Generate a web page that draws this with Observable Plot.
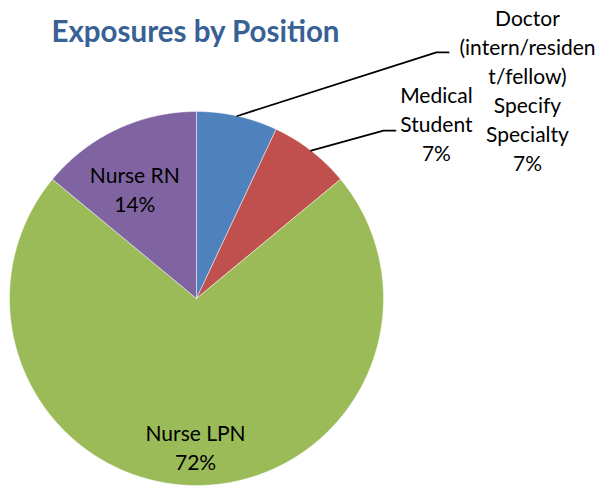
<!DOCTYPE html>
<html>
<head>
<meta charset="utf-8">
<script src="https://cdn.jsdelivr.net/npm/d3@7"></script>
<script src="https://cdn.jsdelivr.net/npm/@observablehq/plot@0.6"></script>
<style>
  html, body { margin: 0; padding: 0; background: #fff; }
</style>
</head>
<body>
<div id="chart"></div>
<script>
// ---- data ----
const title = "Exposures by Position";
const positions = ["Doctor (intern/resident/fellow) Specify Specialty", "Medical Student", "Nurse LPN", "Nurse RN"];
const labelTexts = ["Doctor\n(intern/residen\nt/fellow)\nSpecify\nSpecialty", "Medical\nStudent", "Nurse LPN", "Nurse RN"];
const percents = [7, 7, 72, 14];
const colors = ["#4F81BD", "#C0504D", "#9BBB59", "#8064A2"];

// ---- layout (in radius units, pie centre at 0,0) ----
const labelAt = [[1.77, 1.12], [1.283, 0.94], [-0.005, -0.79], [-0.33, 0.588]];
const leaderElbow = [[1.283, 1.316], [1.0, 0.898]];
const leaderEnd = [[1.348, 1.316], [1.064, 0.898]];

const arcs = d3.pie().sort(null).value(d => d)(percents);
const slicePts = [];
arcs.forEach((a, i) => {
  slicePts.push({name: positions[i], x: 0, y: 0});
  const n = Math.max(2, Math.ceil((a.endAngle - a.startAngle) / 0.005));
  for (let k = 0; k <= n; k++) {
    const t = a.startAngle + (a.endAngle - a.startAngle) * k / n;
    slicePts.push({name: positions[i], x: Math.sin(t), y: Math.cos(t)});
  }
  slicePts.push({name: positions[i], x: 0, y: 0});
});

const leaderPts = [];
[0, 1].forEach(i => {
  const m = (arcs[i].startAngle + arcs[i].endAngle) / 2;
  leaderPts.push({k: i, x: Math.sin(m), y: Math.cos(m)});
  leaderPts.push({k: i, x: leaderElbow[i][0], y: leaderElbow[i][1]});
  leaderPts.push({k: i, x: leaderEnd[i][0], y: leaderEnd[i][1]});
});

const labels = positions.map((p, i) => ({
  text: labelTexts[i] + "\n" + percents[i] + "%",
  x: labelAt[i][0], y: labelAt[i][1]
}));

const R = 187, W = 603, H = 487, cx = 196, cy = 298;
const chart = Plot.plot({
  width: W, height: H, margin: 0,
  style: {fontFamily: "Lato, 'Open Sans', sans-serif", background: "#fff"},
  x: {domain: [-cx / R, (W - cx) / R], axis: null},
  y: {domain: [-(H - cy) / R, cy / R], axis: null},
  color: {domain: positions, range: colors},
  marks: [
    Plot.line(slicePts, {x: "x", y: "y", z: "name", fill: "name", stroke: "#fff", strokeWidth: 0.8, strokeOpacity: 0.6}),
    Plot.line(leaderPts, {x: "x", y: "y", z: "k", stroke: "#000", strokeWidth: 1.8}),
    Plot.text(labels, {x: "x", y: "y", text: "text", fontSize: 21, lineHeight: 1.38, fill: "#000"}),
    Plot.text([title], {frameAnchor: "top-left", dx: 51, dy: 21, text: d => d, fontSize: 29.5, fontWeight: "bold", fill: "#386196", textAnchor: "start", lineAnchor: "top"})
  ]
});
document.getElementById("chart").appendChild(chart);
</script>
</body>
</html>
